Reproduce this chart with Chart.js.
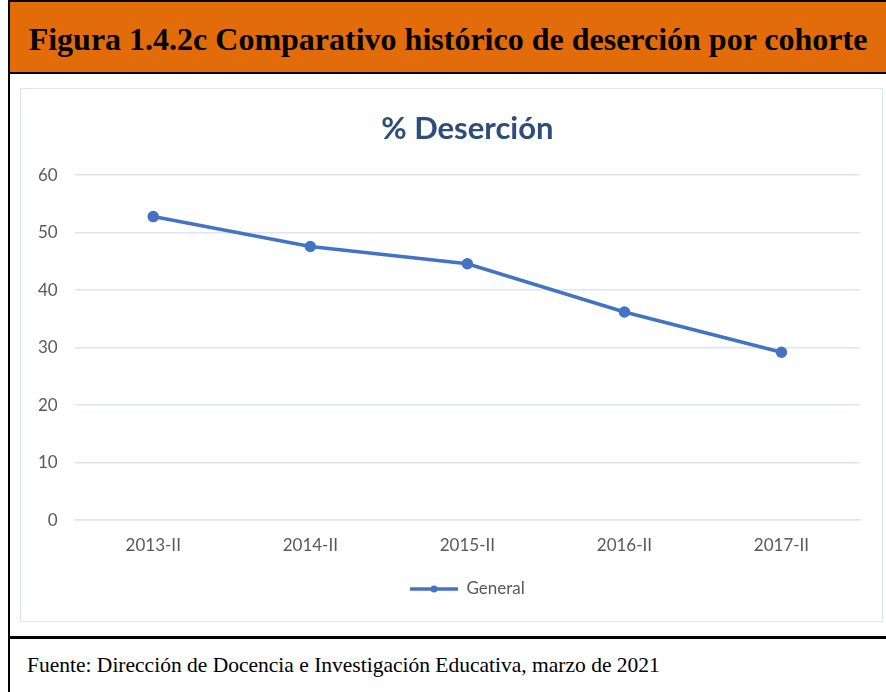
<!DOCTYPE html>
<html>
<head>
<meta charset="utf-8">
<script src="https://cdn.jsdelivr.net/npm/chart.js@4"></script>
<style>
  body { margin: 0; background: #fff; }
  #hoja { position: relative; width: 886px; height: 692px; overflow: hidden; background: #fff; }
  #bordeIzq { position: absolute; left: 8px; top: 0; width: 2px; height: 692px; background: #000; }
  #bordeSup { position: absolute; left: 8px; top: 0; width: 878px; height: 2px; background: #000; }
  #cabecera { position: absolute; left: 10px; top: 2px; width: 876px; height: 70px; background: #E36C0A;
    font-family: "Liberation Serif", "Times New Roman", serif; font-weight: bold; font-size: 32px;
    line-height: 74px; color: #000; text-align: center; white-space: nowrap; }
  #lineaCab { position: absolute; left: 8px; top: 72px; width: 878px; height: 2px; background: #000; }
  #marco { position: absolute; left: 20px; top: 88px; width: 861px; height: 532px; border: 1px solid #DCE6F2; }
  #lineaPie { position: absolute; left: 8px; top: 636px; width: 878px; height: 3px; background: #000; }
  #pie { position: absolute; left: 27px; top: 653px; font-family: "Liberation Serif", "Times New Roman", serif;
    font-size: 21.5px; line-height: 24px; color: #000; white-space: nowrap; }
</style>
</head>
<body>
<div id="hoja">
  <div id="bordeSup"></div>
  <div id="bordeIzq"></div>
  <div id="cabecera">Figura 1.4.2c Comparativo histórico de deserción por cohorte</div>
  <div id="lineaCab"></div>
  <div id="marco"><canvas id="grafico" width="861" height="532"></canvas></div>
  <div id="lineaPie"></div>
  <div id="pie">Fuente: Dirección de Docencia e Investigación Educativa, marzo de 2021</div>
</div>
<script>
var cohortes = ['2013-II', '2014-II', '2015-II', '2016-II', '2017-II'];
var desercion = [52.8, 47.6, 44.6, 36.2, 29.2];
var marcasY = [0, 10, 20, 30, 40, 50, 60];

var azul = '#4472C4';
var fuente = 'Lato, "Open Sans", sans-serif';

// icono de la leyenda: linea con punto al centro
function iconoLeyenda() {
    var c = document.createElement('canvas');
    c.width = 48;
    c.height = 10;
    var g = c.getContext('2d');
    g.strokeStyle = azul;
    g.lineWidth = 3.5;
    g.beginPath();
    g.moveTo(0, 5);
    g.lineTo(48, 5);
    g.stroke();
    g.fillStyle = azul;
    g.beginPath();
    g.arc(24, 5, 3.5, 0, Math.PI * 2);
    g.fill();
    return c;
}

var ctx = document.getElementById('grafico').getContext('2d');
var chart = new Chart(ctx, {
    type: 'line',
    data: {
        labels: cohortes,
        datasets: [{
            label: 'General',
            data: desercion,
            borderColor: azul,
            backgroundColor: azul,
            borderWidth: 3.5,
            pointRadius: 4,
            pointHoverRadius: 4,
            pointBackgroundColor: azul,
            pointBorderColor: azul,
            tension: 0
        }]
    },
    options: {
        responsive: false,
        animation: false,
        layout: { padding: { left: 0, right: 22, top: 0, bottom: 13.5 } },
        plugins: {
            title: {
                display: true,
                fullSize: false,
                text: '% Deserción',
                color: '#2E4D7B',
                font: { family: fuente, size: 31, weight: 'bold' },
                padding: { top: 21, bottom: 28 }
            },
            legend: {
                position: 'bottom',
                fullSize: false,
                labels: {
                    usePointStyle: true,
                    pointStyleWidth: 48,
                    color: '#595959',
                    font: { family: fuente, size: 17 },
                    padding: 10,
                    generateLabels: function (ch) {
                        return [{
                            text: 'General',
                            pointStyle: iconoLeyenda(),
                            fontColor: '#595959',
                            lineWidth: 0,
                            datasetIndex: 0
                        }];
                    }
                }
            },
            tooltip: { enabled: false }
        },
        scales: {
            x: {
                offset: true,
                grid: { display: false, drawTicks: false },
                border: { display: true, color: '#DCE6F2', width: 1.5 },
                ticks: {
                    color: '#595959',
                    padding: 15,
                    font: { family: fuente, size: 17 }
                }
            },
            y: {
                min: 0,
                max: 60,
                afterBuildTicks: function (eje) {
                    eje.ticks = marcasY.map(function (v) { return { value: v }; });
                },
                grid: { color: '#DCE6F2', lineWidth: 1.5, drawTicks: false },
                border: { display: false },
                ticks: {
                    color: '#595959',
                    padding: 17,
                    font: { family: fuente, size: 17 }
                }
            }
        }
    }
});
</script>
</body>
</html>
